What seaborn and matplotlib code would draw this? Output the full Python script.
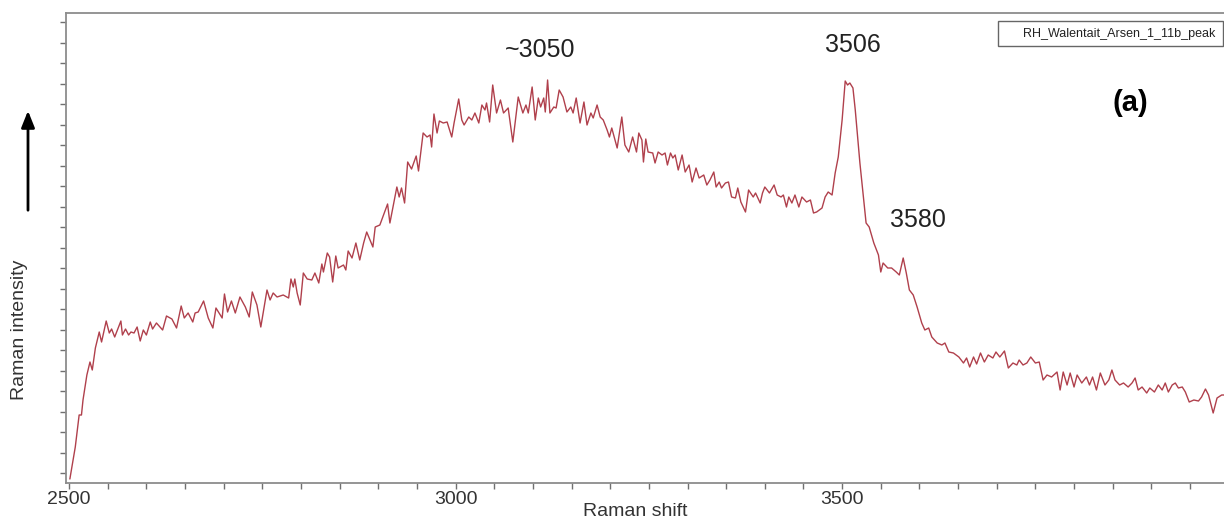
import numpy as np
import pandas as pd
import matplotlib
matplotlib.use("Agg")
import matplotlib.pyplot as plt
import seaborn as sns
from matplotlib.patches import Rectangle

# Raman spectrum, in segments (shift in cm-1, intensity in arb. units)
shift_rise = [2501, 2508, 2513, 2516, 2518, 2523, 2527, 2530, 2534, 2539,
              2542, 2548, 2552, 2555, 2559, 2567, 2569, 2573, 2577, 2580,
              2584, 2588, 2592, 2596, 2600, 2605, 2608, 2613, 2621, 2626,
              2633, 2639, 2645, 2649, 2654, 2660, 2663, 2667, 2674, 2680,
              2686, 2690, 2698, 2701, 2705, 2710, 2715, 2721, 2728, 2733,
              2737, 2743, 2748]
int_rise = [4, 36, 68, 68, 83, 108, 121, 113, 135, 151,
            141, 162, 150, 154, 146, 162, 148, 154, 148, 151,
            150, 156, 142, 153, 148, 161, 154, 160, 153, 167,
            164, 155, 177, 165, 170, 161, 170, 171, 182, 165,
            155, 175, 165, 189, 171, 182, 170, 186, 176, 166,
            191, 178, 156]

shift_climb = [2756, 2760, 2764, 2769, 2777, 2784, 2787, 2790, 2792, 2795,
               2799, 2803, 2808, 2814, 2818, 2823, 2827, 2829, 2834, 2837,
               2841, 2845, 2848, 2855, 2858, 2861, 2866, 2871, 2876, 2881,
               2885, 2893, 2896, 2902, 2912, 2915, 2924, 2927, 2930, 2934,
               2938, 2943, 2949, 2952, 2958, 2963, 2967, 2969, 2972, 2976,
               2979, 2984, 2989]
int_climb = [193, 183, 190, 186, 188, 185, 204, 196, 204, 190,
             178, 210, 204, 203, 210, 200, 219, 211, 230, 226,
             201, 227, 215, 218, 213, 232, 225, 240, 223, 240,
             251, 236, 256, 258, 279, 260, 296, 286, 295, 280,
             321, 314, 327, 312, 350, 346, 348, 336, 369, 350,
             362, 360, 361]

shift_broad = [2995, 2998, 3004, 3008, 3011, 3017, 3021, 3025, 3030, 3034,
               3038, 3040, 3044, 3048, 3053, 3058, 3062, 3068, 3074, 3081,
               3087, 3091, 3094, 3099, 3103, 3107, 3110, 3114, 3116, 3119,
               3122, 3127, 3130, 3134, 3139, 3144, 3149, 3152, 3156, 3161,
               3166, 3170, 3175, 3178, 3183, 3187, 3191, 3196, 3199, 3202,
               3209, 3215, 3219, 3224]
int_broad = [346, 360, 384, 363, 358, 366, 363, 370, 360, 378,
             373, 380, 361, 398, 370, 383, 370, 375, 341, 386,
             370, 378, 370, 396, 363, 385, 376, 385, 371, 403,
             370, 376, 375, 393, 386, 371, 376, 370, 385, 360,
             381, 358, 370, 365, 378, 366, 363, 353, 346, 355,
             335, 366, 338, 331]

shift_fall = [3229, 3234, 3237, 3241, 3243, 3246, 3249, 3255, 3258, 3262,
              3267, 3271, 3274, 3278, 3281, 3284, 3288, 3293, 3297, 3302,
              3306, 3311, 3315, 3321, 3325, 3329, 3334, 3337, 3341, 3344,
              3349, 3353, 3357, 3362, 3365, 3369, 3375, 3379, 3385, 3388,
              3394, 3397, 3400, 3406, 3412, 3416, 3421, 3424, 3428, 3431,
              3435, 3439, 3444, 3448, 3454, 3459, 3463, 3467, 3474, 3478,
              3482, 3487, 3491]
int_fall = [346, 331, 350, 343, 321, 344, 331, 330, 320, 331,
            328, 330, 318, 330, 325, 328, 313, 328, 311, 318,
            301, 315, 305, 308, 298, 303, 311, 296, 301, 295,
            300, 301, 286, 285, 295, 281, 271, 293, 286, 290,
            280, 290, 296, 290, 298, 288, 286, 288, 276, 286,
            280, 288, 276, 286, 281, 283, 270, 271, 275, 286,
            291, 288, 310]

shift_peak = [3495, 3500, 3504, 3507, 3510, 3514, 3517, 3520, 3523, 3528,
              3531, 3535, 3541, 3547, 3550, 3553, 3559, 3564, 3570, 3574,
              3579, 3583, 3587, 3592, 3597, 3603, 3607, 3612, 3616, 3623,
              3629, 3633, 3638, 3644, 3651, 3657, 3661, 3665, 3670, 3674,
              3679, 3684, 3689, 3695, 3699, 3704]
int_peak = [326, 363, 402, 398, 400, 395, 373, 346, 320, 283,
            260, 256, 240, 228, 211, 220, 215, 215, 211, 208,
            225, 210, 193, 188, 176, 160, 153, 155, 146, 140,
            138, 140, 131, 130, 126, 120, 125, 116, 126, 119,
            130, 121, 128, 125, 131, 126]

shift_tail = [3710, 3715, 3721, 3726, 3729, 3734, 3739, 3744, 3750, 3755,
              3760, 3765, 3771, 3778, 3782, 3786, 3791, 3795, 3800, 3804,
              3810, 3816, 3820, 3824, 3829, 3834, 3840, 3845, 3849, 3853,
              3859, 3864, 3870, 3875, 3879, 3883, 3888, 3894, 3898, 3904,
              3909, 3914, 3918, 3922, 3927, 3931, 3935, 3940, 3944, 3949,
              3955, 3961, 3965, 3970, 3974, 3980, 3985, 3991, 3994]
int_tail = [132, 115, 120, 118, 123, 118, 120, 126, 120, 121,
            103, 108, 106, 111, 93, 111, 98, 110, 96, 108,
            100, 106, 98, 106, 93, 110, 98, 103, 113, 103,
            98, 100, 96, 100, 105, 93, 96, 90, 95, 91,
            98, 93, 100, 91, 98, 100, 95, 96, 91, 81,
            83, 82, 86, 94, 88, 70, 85, 88, 88]

peak_labels = ["~3050", "3506", "3580"]
peak_pos = [(3109, 433), (3514, 438), (3598, 263)]
sample_name = "RH_Walentait_Arsen_1_11b_peak"

df = pd.DataFrame({
    "shift": shift_rise + shift_climb + shift_broad + shift_fall + shift_peak + shift_tail,
    "intensity": int_rise + int_climb + int_broad + int_fall + int_peak + int_tail,
})

sns.set_style("ticks")
plt.rcParams["font.family"] = ["Liberation Sans", "DejaVu Sans"]

W, H = 1224, 522
fig = plt.figure(figsize=(W / 100, H / 100), dpi=100)
ax = fig.add_axes([66 / W, 1 - 483 / H, 1 - 66 / W, 470 / H])

sns.lineplot(data=df, x="shift", y="intensity", ax=ax, color="#b0404c",
             lw=1.0, sort=False)

ax.set_xlim(2496, 3994)
ax.set_ylim(0, 470)
ax.set_xticks([2500, 3000, 3500])
ax.set_xticks(np.arange(2500, 4000, 50), minor=True)
ax.set_yticks(10 + 20.5 * np.arange(23))
ax.set_yticklabels([])
ax.tick_params(axis="both", which="both", direction="out", length=4, width=1,
               color="#707070", labelsize=14, labelcolor="#333333", pad=2)

ax.spines["right"].set_visible(False)
for s in ["left", "bottom", "top"]:
    ax.spines[s].set_color("#8c8c8c")
    ax.spines[s].set_linewidth(1.3)

ax.set_xlabel("")
ax.set_ylabel("")
fig.text(635 / W, 1 - 511 / H, "Raman shift", ha="center", va="center",
         fontsize=14, color="#333333")
fig.text(20 / W, 1 - 330 / H, "Raman intensity", rotation=90, ha="center",
         va="center", fontsize=14, color="#333333")

for lab, (x, y) in zip(peak_labels, peak_pos):
    ax.text(x, y, lab, ha="center", va="center", fontsize=18, color="#222222")
ax.text(3873, 380, "(a)", ha="center", va="center", fontsize=21,
        fontweight="bold", color="black")

# intensity arrow
ax.annotate("", xy=(28, H - 108), xytext=(28, H - 213), xycoords="figure pixels",
            textcoords="figure pixels",
            arrowprops=dict(arrowstyle="-|>,head_width=0.4,head_length=1.0",
                            lw=2, color="black"))

# sample name box
fig.patches.append(Rectangle((998 / W, 1 - 46 / H), 225 / W, 25 / H,
                             transform=fig.transFigure, fill=False,
                             edgecolor="#666666", lw=1))
fig.text(1215 / W, 1 - 33.5 / H, sample_name, ha="right", va="center",
         fontsize=9, color="#222222")

fig.savefig("out.png", dpi=100)
